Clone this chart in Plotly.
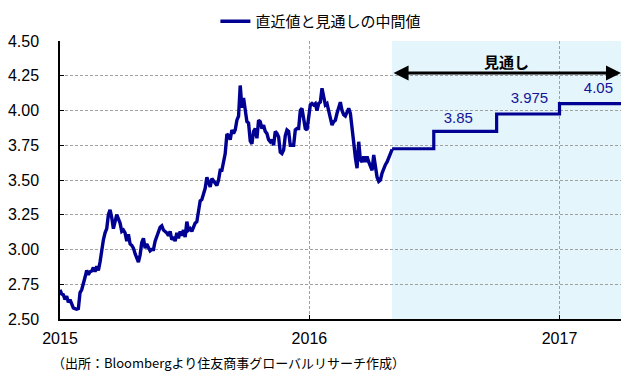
import pandas as pd
import plotly.graph_objects as go

# ---- data ----
hist_start = "2015-01-01"
hist_end = "2016-05-01"
hist_values = [
    2.71, 2.68, 2.675, 2.64, 2.665, 2.62, 2.64, 2.61, 2.58, 2.575,
    2.57, 2.575, 2.69, 2.71, 2.77, 2.80, 2.85, 2.82, 2.84, 2.845,
    2.87, 2.84, 2.88, 2.85, 2.91, 3.00, 3.07, 3.12, 3.15, 3.25,
    3.285, 3.23, 3.15, 3.20, 3.25, 3.22, 3.19, 3.13, 3.14, 3.12,
    3.06, 3.11, 3.04, 3.03, 3.01, 2.97, 2.94, 2.91, 2.96, 3.05,
    3.08, 3.01, 3.04, 3.02, 2.99, 3.00, 3.00, 3.06, 3.09, 3.12,
    3.16, 3.17, 3.14, 3.13, 3.12, 3.10, 3.13, 3.07, 3.09, 3.06,
    3.12, 3.08, 3.13, 3.10, 3.14, 3.09, 3.20, 3.14, 3.15, 3.13,
    3.17, 3.19, 3.20, 3.30, 3.35, 3.36, 3.41, 3.44, 3.52, 3.49,
    3.45, 3.51, 3.49, 3.48, 3.46, 3.50, 3.57, 3.57, 3.62, 3.69,
    3.83, 3.82, 3.79, 3.86, 3.835, 3.86, 3.93, 3.96, 4.18, 4.02,
    4.09, 3.99, 3.92, 3.91, 3.78, 3.76, 3.85, 3.87, 3.80, 3.93,
    3.92, 3.87, 3.895, 3.85, 3.835, 3.79, 3.775, 3.79, 3.75, 3.85,
    3.835, 3.81, 3.70, 3.69, 3.715, 3.82, 3.86, 3.85, 3.75, 3.75,
    3.75, 3.86, 3.87, 3.87, 4.00, 4.015, 3.93, 3.87, 3.86, 3.98,
    4.04, 4.05, 4.04, 4.05, 4.00, 4.05, 4.06, 4.16, 4.10, 4.04,
    4.05, 3.99, 3.95, 3.895, 3.92, 3.93, 3.98, 4.03, 4.06, 4.00,
    3.97, 3.96, 3.99, 4.015, 3.98, 3.84, 3.77, 3.66, 3.585, 3.775,
    3.645, 3.63, 3.67, 3.63, 3.67, 3.63, 3.595, 3.57, 3.68, 3.585,
    3.52, 3.49, 3.50, 3.55, 3.585, 3.61, 3.63, 3.67, 3.69, 3.72,
]
outlook_dates = ["2016-05-01", "2016-07-01", "2016-10-01", "2017-01-01", "2017-04-01"]
outlook_values = [3.725, 3.85, 3.975, 4.05, 4.05]
label_dates = ["2016-08-06", "2016-11-18", "2017-02-27"]
label_values = [3.94, 4.08, 4.153]
label_texts = ["3.85", "3.975", "4.05"]
y_ticks = [2.50, 2.75, 3.00, 3.25, 3.50, 3.75, 4.00, 4.25, 4.50]
x_ticks = ["2015-01-01", "2016-01-01", "2017-01-01"]
x_tick_text = ["2015", "2016", "2017"]
series_name = "直近値と見通しの中間値"
outlook_title = "見通し"
source_text = "（出所：Bloombergより住友商事グローバルリサーチ作成）"

hist_dates = pd.date_range(hist_start, hist_end, periods=len(hist_values))

LINE = "#000092"
CJK = "Noto Sans CJK JP"
LAT = "Liberation Sans, Arial, sans-serif"

fig = go.Figure()
fig.add_trace(go.Scatter(x=hist_dates, y=hist_values, mode="lines", name=series_name,
                         line=dict(color=LINE, width=3.4), legendgroup="a"))
fig.add_trace(go.Scatter(x=outlook_dates, y=outlook_values, mode="lines", name=series_name,
                         line=dict(color=LINE, width=3.2, shape="hv"), legendgroup="a",
                         showlegend=False))
fig.add_trace(go.Scatter(x=label_dates, y=label_values, mode="text", text=label_texts,
                         textfont=dict(family=LAT, size=15, color="#141496"),
                         showlegend=False, hoverinfo="skip"))

fig.add_shape(type="rect", xref="x", yref="paper", x0=outlook_dates[0], x1=outlook_dates[-1],
              y0=0, y1=1, fillcolor="#e4f5fb", line=dict(width=0), layer="below")

fig.add_annotation(x=outlook_dates[-1], y=4.27, ax=outlook_dates[0], ay=4.27,
                   xref="x", yref="y", axref="x", ayref="y", text="", showarrow=True,
                   arrowside="end+start", arrowhead=2, arrowsize=1, arrowwidth=3,
                   arrowcolor="black")
fig.add_annotation(x="2016-10-15", y=4.35, xref="x", yref="y", text="<b>" + outlook_title + "</b>",
                   showarrow=False, font=dict(family=CJK, size=15, color="black"))
fig.add_annotation(x=-0.017, y=-0.155, xref="paper", yref="paper", xanchor="left", yanchor="middle",
                   text=source_text, showarrow=False,
                   font=dict(family=CJK, size=13, color="black"))

fig.update_layout(
    width=638, height=376,
    margin=dict(l=60, r=17, t=41, b=57, autoexpand=False),
    paper_bgcolor="white", plot_bgcolor="white",
    showlegend=True,
    legend=dict(orientation="h", x=0.277, xanchor="left", y=1.07, yanchor="middle",
                font=dict(family=CJK, size=15, color="black"), bgcolor="rgba(0,0,0,0)",
                itemwidth=30),
    font=dict(family=LAT, size=16, color="black"),
)
fig.update_xaxes(range=["2015-01-01", "2017-04-01"], tickvals=x_ticks, ticktext=x_tick_text,
                 showgrid=True, gridcolor="#a0a0a0", griddash="3px,2px", gridwidth=1,
                 showline=True, linecolor="black", linewidth=1.5,
                 ticks="inside", ticklen=4, tickcolor="black",
                 tickfont=dict(family=LAT, size=16, color="black"), ticklabelstandoff=4)
fig.update_yaxes(range=[2.5, 4.5], tickvals=y_ticks, tickformat=".2f",
                 showgrid=True, gridcolor="#a0a0a0", griddash="3px,2px", gridwidth=1,
                 showline=True, linecolor="black", linewidth=1.5, zeroline=False,
                 ticks="inside", ticklen=4, tickcolor="black",
                 tickfont=dict(family=LAT, size=16, color="black"), ticklabelstandoff=16)

fig.write_html("out.html", config={"displayModeBar": False},
               post_script="document.body.style.margin='0';document.body.style.padding='0';")
